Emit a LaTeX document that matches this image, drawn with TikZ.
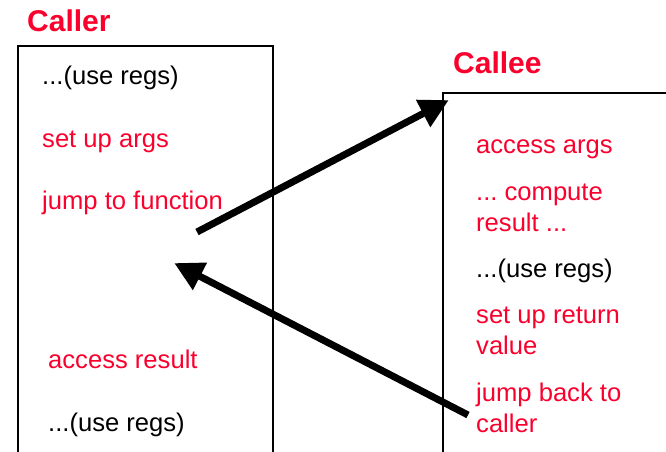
\documentclass[tikz,border=0pt]{standalone}
\usepackage{fontspec}
\setmainfont{Liberation Sans}
\usetikzlibrary{arrows.meta}
\definecolor{callred}{RGB}{250,0,45}
\frenchspacing
\tikzset{
  frameline/.style={draw=black, line width=1.2pt},
  heading/.style={anchor=base west, inner sep=0pt, text=callred, font=\fontsize{30}{36}\selectfont\bfseries},
  redtxt/.style={anchor=base west, inner sep=0pt, text=callred, font=\fontsize{25.6}{31}\selectfont},
  blacktxt/.style={anchor=base west, inner sep=0pt, text=black, font=\fontsize{25.6}{31}\selectfont},
  flow/.style={line width=7pt, -{Triangle[length=29pt,width=29pt]}, shorten >=-2pt}
}
\begin{document}
\begin{tikzpicture}[x=1pt,y=-1pt]
\useasboundingbox (0,0) rectangle (666,452);

% frames (open at the page edges)
\draw[frameline] (18,452) -- (18,46) -- (273,46) -- (273,452);
\draw[frameline] (443,452) -- (443,93) -- (666,93);

% headings
\node[heading] (callerT) at (27,32) {Caller};
\node[heading] (calleeT) at (453,74) {Callee};

% caller side
\node[blacktxt] (cUse1) at (42,84) {...(use regs)};
\node[redtxt] (cArgs) at (42,147) {set up args};
\node[redtxt] (cJump) at (42,209) {jump to function};
\node[redtxt] (cRes) at (48,368) {access result};
\node[blacktxt] (cUse2) at (48,431) {...(use regs)};

% callee side
\node[redtxt] (eArgs) at (476,153) {access args};
\node[redtxt] (eComp1) at (476,200) {... compute};
\node[redtxt] (eComp2) at (476,231) {result ...};
\node[blacktxt] (eUse) at (476,277) {...(use regs)};
\node[redtxt] (eRet1) at (476,323) {set up return};
\node[redtxt] (eRet2) at (476,354) {value};
\node[redtxt] (eBack1) at (476,401) {jump back to};
\node[redtxt] (eBack2) at (476,432) {caller};

% control transfer
\coordinate (callFrom) at (197,232);
\coordinate (calleeEntry) at (447,101);
\coordinate (retFrom) at (468,415);
\coordinate (retTo) at (176,264);
\draw[flow] (callFrom) -- (calleeEntry);
\draw[flow] (retFrom) -- (retTo);
\end{tikzpicture}
\end{document}
